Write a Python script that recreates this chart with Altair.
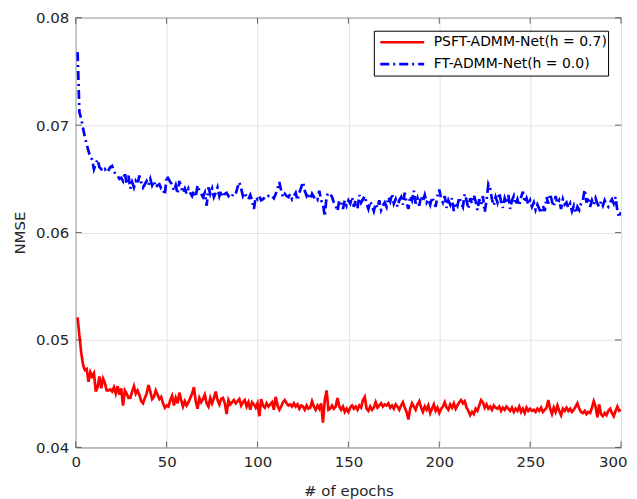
import altair as alt
import pandas as pd

series_names = ["PSFT-ADMM-Net(h = 0.7)", "FT-ADMM-Net(h = 0.0)"]

psft_nmse = [
    0.0521, 0.0504, 0.0488, 0.0477, 0.0472, 0.0473, 0.0461, 0.0470, 0.0466, 0.0469,
    0.0452, 0.0456, 0.0466, 0.0455, 0.0464, 0.0460, 0.0453, 0.0453, 0.0454, 0.0452,
    0.0456, 0.0450, 0.0457, 0.0449, 0.0455, 0.0439, 0.0453, 0.0450, 0.0446, 0.0446,
    0.0452, 0.0457, 0.0450, 0.0453, 0.0449, 0.0443, 0.0441, 0.0446, 0.0450, 0.0458,
    0.0452, 0.0445, 0.0447, 0.0453, 0.0449, 0.0445, 0.0447, 0.0441, 0.0437, 0.0439,
    0.0438, 0.0444, 0.0448, 0.0439, 0.0446, 0.0441, 0.0451, 0.0444, 0.0438, 0.0443,
    0.0439, 0.0442, 0.0446, 0.0450, 0.0456, 0.0443, 0.0436, 0.0446, 0.0442, 0.0445,
    0.0449, 0.0441, 0.0438, 0.0446, 0.0441, 0.0446, 0.0452, 0.0444, 0.0440, 0.0445,
    0.0446, 0.0441, 0.0431, 0.0444, 0.0440, 0.0442, 0.0444, 0.0441, 0.0443, 0.0445,
    0.0439, 0.0442, 0.0444, 0.0438, 0.0442, 0.0435, 0.0442, 0.0440, 0.0437, 0.0441,
    0.0429, 0.0445, 0.0439, 0.0437, 0.0441, 0.0438, 0.0440, 0.0442, 0.0435, 0.0447,
    0.0439, 0.0435, 0.0438, 0.0442, 0.0444, 0.0441, 0.0439, 0.0440, 0.0438, 0.0441,
    0.0438, 0.0440, 0.0436, 0.0439, 0.0438, 0.0435, 0.0439, 0.0436, 0.0437, 0.0443,
    0.0438, 0.0435, 0.0439, 0.0436, 0.0441, 0.0423, 0.0444, 0.0453, 0.0435, 0.0436,
    0.0439, 0.0436, 0.0438, 0.0446, 0.0438, 0.0435, 0.0438, 0.0433, 0.0436, 0.0433,
    0.0437, 0.0439, 0.0436, 0.0438, 0.0435, 0.0439, 0.0437, 0.0444, 0.0447, 0.0436,
    0.0434, 0.0438, 0.0435, 0.0437, 0.0442, 0.0437, 0.0439, 0.0441, 0.0438, 0.0440,
    0.0439, 0.0441, 0.0437, 0.0439, 0.0436, 0.0440, 0.0438, 0.0435, 0.0439, 0.0442,
    0.0437, 0.0433, 0.0426, 0.0436, 0.0441, 0.0438, 0.0435, 0.0440, 0.0443, 0.0437,
    0.0433, 0.0438, 0.0435, 0.0439, 0.0432, 0.0436, 0.0440, 0.0434, 0.0437, 0.0432,
    0.0436, 0.0438, 0.0442, 0.0437, 0.0435, 0.0440, 0.0437, 0.0441, 0.0436, 0.0439,
    0.0442, 0.0444, 0.0441, 0.0443, 0.0437, 0.0434, 0.0430, 0.0433, 0.0431, 0.0436,
    0.0434, 0.0439, 0.0444, 0.0442, 0.0437, 0.0440, 0.0436, 0.0438, 0.0435, 0.0439,
    0.0437, 0.0436, 0.0438, 0.0434, 0.0437, 0.0435, 0.0438, 0.0436, 0.0434, 0.0437,
    0.0433, 0.0436, 0.0434, 0.0438, 0.0433, 0.0436, 0.0432, 0.0437, 0.0434, 0.0436,
    0.0434, 0.0435, 0.0433, 0.0436, 0.0434, 0.0437, 0.0433, 0.0435, 0.0437, 0.0444,
    0.0436, 0.0431, 0.0437, 0.0433, 0.0439, 0.0434, 0.0430, 0.0436, 0.0434, 0.0437,
    0.0434, 0.0436, 0.0433, 0.0435, 0.0438, 0.0441, 0.0436, 0.0433, 0.0432, 0.0434,
    0.0431, 0.0433, 0.0432, 0.0437, 0.0443, 0.0438, 0.0428, 0.0440, 0.0431, 0.0429,
    0.0432, 0.0430, 0.0434, 0.0436, 0.0432, 0.0429, 0.0434, 0.0438, 0.0434, 0.0435,
]

ft_nmse = [
    0.0768, 0.0712, 0.0706, 0.0697, 0.0689, 0.0682, 0.0676, 0.0670, 0.0668, 0.0659,
    0.0664, 0.0668, 0.0661, 0.0659, 0.0657, 0.0659, 0.0656, 0.0658, 0.0661, 0.0662,
    0.0657, 0.0654, 0.0653, 0.0650, 0.0651, 0.0648, 0.0656, 0.0645, 0.0653, 0.0641,
    0.0647, 0.0642, 0.0648, 0.0645, 0.0653, 0.0647, 0.0642, 0.0645, 0.0648, 0.0644,
    0.0650, 0.0644, 0.0648, 0.0642, 0.0644, 0.0645, 0.0641, 0.0641, 0.0635, 0.0653,
    0.0650, 0.0647, 0.0645, 0.0639, 0.0644, 0.0636, 0.0648, 0.0642, 0.0637, 0.0641,
    0.0636, 0.0641, 0.0637, 0.0634, 0.0639, 0.0633, 0.0644, 0.0639, 0.0636, 0.0633,
    0.0637, 0.0625, 0.0642, 0.0636, 0.0641, 0.0633, 0.0637, 0.0642, 0.0634, 0.0639,
    0.0633, 0.0636, 0.0637, 0.0634, 0.0636, 0.0634, 0.0637, 0.0636, 0.0642, 0.0647,
    0.0641, 0.0634, 0.0637, 0.0633, 0.0631, 0.0635, 0.0630, 0.0622, 0.0633, 0.0631,
    0.0634, 0.0630, 0.0631, 0.0633, 0.0632, 0.0634, 0.0633, 0.0634, 0.0632, 0.0636,
    0.0641, 0.0647, 0.0639, 0.0633, 0.0636, 0.0634, 0.0633, 0.0636, 0.0631, 0.0634,
    0.0637, 0.0630, 0.0637, 0.0642, 0.0647, 0.0639, 0.0634, 0.0637, 0.0631, 0.0636,
    0.0633, 0.0634, 0.0631, 0.0639, 0.0630, 0.0627, 0.0615, 0.0634, 0.0637, 0.0636,
    0.0633, 0.0628, 0.0625, 0.0620, 0.0630, 0.0628, 0.0622, 0.0630, 0.0625, 0.0630,
    0.0627, 0.0633, 0.0624, 0.0630, 0.0622, 0.0635, 0.0628, 0.0631, 0.0634, 0.0627,
    0.0622, 0.0629, 0.0625, 0.0620, 0.0627, 0.0623, 0.0630, 0.0621, 0.0625, 0.0628,
    0.0624, 0.0633, 0.0629, 0.0636, 0.0627, 0.0631, 0.0624, 0.0630, 0.0633, 0.0626,
    0.0637, 0.0628, 0.0622, 0.0634, 0.0630, 0.0639, 0.0627, 0.0632, 0.0625, 0.0634,
    0.0629, 0.0635, 0.0628, 0.0631, 0.0626, 0.0633, 0.0629, 0.0624, 0.0634, 0.0640,
    0.0632, 0.0628, 0.0634, 0.0623, 0.0630, 0.0626, 0.0632, 0.0620, 0.0628, 0.0625,
    0.0633, 0.0628, 0.0624, 0.0636, 0.0630, 0.0622, 0.0632, 0.0627, 0.0635, 0.0629,
    0.0621, 0.0631, 0.0626, 0.0634, 0.0619, 0.0630, 0.0645, 0.0641, 0.0631, 0.0625,
    0.0633, 0.0628, 0.0637, 0.0629, 0.0623, 0.0632, 0.0627, 0.0635, 0.0622, 0.0630,
    0.0634, 0.0626, 0.0631, 0.0625, 0.0633, 0.0638, 0.0628, 0.0632, 0.0626, 0.0630,
    0.0624, 0.0628, 0.0621, 0.0626, 0.0622, 0.0618, 0.0625, 0.0620, 0.0633, 0.0627,
    0.0636, 0.0629, 0.0624, 0.0634, 0.0627, 0.0630, 0.0622, 0.0631, 0.0626, 0.0628,
    0.0623, 0.0627, 0.0620, 0.0625, 0.0618, 0.0624, 0.0621, 0.0627, 0.0630, 0.0640,
    0.0628, 0.0633, 0.0624, 0.0630, 0.0626, 0.0632, 0.0627, 0.0624, 0.0629, 0.0625,
    0.0630, 0.0626, 0.0624, 0.0628, 0.0631, 0.0627, 0.0633, 0.0620, 0.0614, 0.0619,
]

x_ticks = [0, 50, 100, 150, 200, 250, 300]
y_ticks = [0.04, 0.05, 0.06, 0.07, 0.08]

epochs = list(range(1, len(psft_nmse) + 1))
df = pd.concat([
    pd.DataFrame({"epoch": epochs, "nmse": psft_nmse, "method": series_names[0]}),
    pd.DataFrame({"epoch": epochs, "nmse": ft_nmse, "method": series_names[1]}),
])
xt = pd.DataFrame({"t": x_ticks})
yt = pd.DataFrame({"t": y_ticks})

W, H = 547, 431
FONT = "DejaVu Sans"
TXT = "#262626"

xscale = alt.Scale(domain=[0, 300], nice=False, zero=False)
yscale = alt.Scale(domain=[0.04, 0.08], nice=False, zero=False)

legend = alt.Legend(
    title=None, orient="none", legendX=299, legendY=13,
    strokeColor="black", fillColor="white", padding=1, cornerRadius=0,
    symbolType="stroke", symbolSize=1936, symbolStrokeWidth=2.6,
    labelFont=FONT, labelFontSize=14, labelColor="black", labelLimit=400,
    clipHeight=21, rowPadding=1, symbolOffset=4, labelOffset=8,
)

lines = alt.Chart(df).mark_line(strokeWidth=2.7, clip=True).encode(
    x=alt.X("epoch:Q", scale=xscale,
            axis=alt.Axis(values=x_ticks, title="# of epochs", format="d",
                          labelPadding=7, titlePadding=14,
                          labelFlush=False, labelOverlap=False, labelBound=False,
                          labelAlign=alt.ExprRef("datum.value == 300 ? 'right' : 'center'"),
                          labelOffset=alt.ExprRef("datum.value == 300 ? 6 : 0"))),
    y=alt.Y("nmse:Q", scale=yscale,
            axis=alt.Axis(values=y_ticks, title="NMSE", format=".2f",
                          labelPadding=7, titlePadding=8,
                          labelFlush=False, labelOverlap=False, labelBound=False)),
    color=alt.Color("method:N", sort=series_names,
                    scale=alt.Scale(domain=series_names, range=["#ff0000", "#0000ff"]),
                    legend=legend),
    strokeDash=alt.StrokeDash("method:N", sort=series_names,
                              scale=alt.Scale(domain=series_names, range=[[1, 0], [9, 4, 2, 4]]),
                              legend=legend),
    order=alt.Order("epoch:Q"),
)

tick_style = dict(color=TXT, size=6, thickness=1)
xt_bottom = alt.Chart(xt).mark_tick(**tick_style).encode(
    x=alt.X("t:Q", scale=xscale), y=alt.value(H - 3))
xt_top = alt.Chart(xt).mark_tick(**tick_style).encode(
    x=alt.X("t:Q", scale=xscale), y=alt.value(3))
yt_left = alt.Chart(yt).mark_tick(**tick_style).encode(
    y=alt.Y("t:Q", scale=yscale), x=alt.value(3))
yt_right = alt.Chart(yt).mark_tick(**tick_style).encode(
    y=alt.Y("t:Q", scale=yscale), x=alt.value(W - 3))

chart = alt.layer(lines, xt_bottom, xt_top, yt_left, yt_right).properties(
    width=W, height=H,
    autosize=alt.AutoSizeParams(type="none"),
    padding={"left": 68, "top": 9, "right": 8, "bottom": 51},
    background="white",
).configure_view(
    stroke=TXT, strokeWidth=1,
).configure_axis(
    grid=True, gridColor="#e3e3e3", gridWidth=1,
    domain=False, ticks=False,
    labelFont=FONT, labelFontSize=15, labelColor=TXT,
    titleFont=FONT, titleFontSize=15, titleFontWeight="normal", titleColor=TXT,
)

chart.save("out.html", embed_options={"renderer": "svg", "actions": False})
